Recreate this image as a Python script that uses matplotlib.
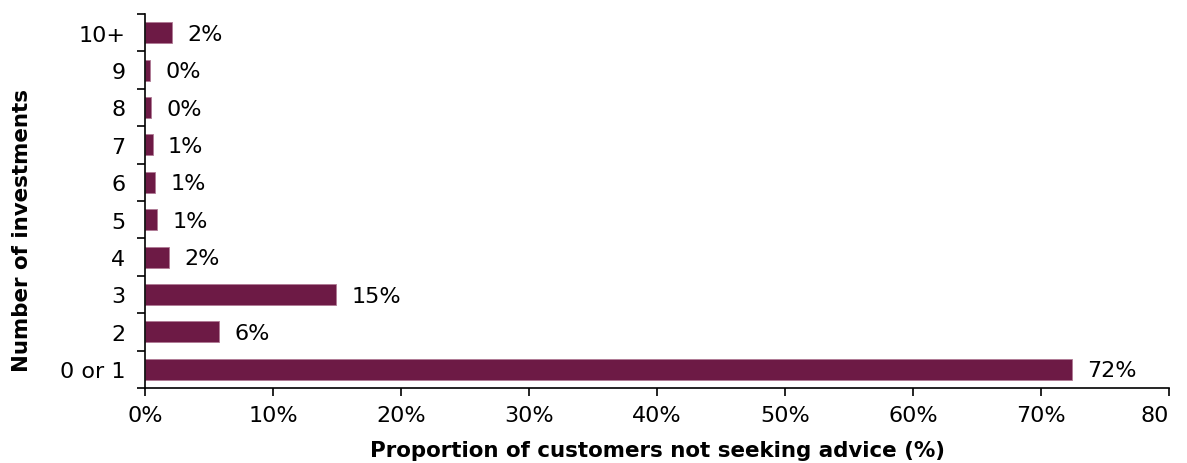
import matplotlib
matplotlib.use("Agg")
import matplotlib.pyplot as plt
import numpy as np

categories = ["0 or 1", "2", "3", "4", "5", "6", "7", "8", "9", "10+"]
values = [72.4, 5.8, 14.9, 1.9, 0.95, 0.8, 0.6, 0.45, 0.4, 2.1]
labels = ["72%", "6%", "15%", "2%", "1%", "1%", "1%", "0%", "0%", "2%"]
xticks = [0, 10, 20, 30, 40, 50, 60, 70, 80]
xticklabels = ["0%", "10%", "20%", "30%", "40%", "50%", "60%", "70%", "80"]

plt.rcParams['font.family'] = ['DejaVu Sans']
fig = plt.figure(figsize=(11.87, 4.64), dpi=100)
ax = fig.add_axes([145/1187, 75/464, 1024/1187, 374/464])

y = np.arange(len(categories))
color = "#6d1a45"
ax.barh(y, values, height=0.56, color=color, edgecolor="#b07a95", linewidth=0.6)
for yi, v, lab in zip(y, values, labels):
    ax.text(v + 1.2, yi - 0.03, lab, va="center", ha="left", fontsize=16, color="black")

ax.set_xlim(0, 80)
ax.set_ylim(-0.5, len(categories) - 0.5)
ax.set_xticks(xticks)
ax.set_xticklabels(xticklabels, fontsize=16)
tl = ax.get_xticklabels()
tl[-1].set_ha("right")
ax.set_yticks(y)
ax.set_yticklabels(categories, fontsize=16)
ax.set_yticks(np.arange(-0.5, len(categories), 1.0), minor=True)
ax.tick_params(axis="y", which="major", length=0, pad=14)
ax.tick_params(axis="y", which="minor", length=6, width=1.2, direction="out")
ax.tick_params(axis="x", which="major", length=6, width=1.2, direction="out", pad=6)
for s in ["top", "right"]:
    ax.spines[s].set_visible(False)
ax.spines["left"].set_linewidth(1.2)
ax.spines["bottom"].set_linewidth(1.2)

ax.set_xlabel("Proportion of customers not seeking advice (%)", fontsize=15.4, fontweight="bold", labelpad=11)
ax.set_ylabel("Number of investments", fontsize=15.4, fontweight="bold", labelpad=12)
ax.yaxis.set_label_coords(-0.11, 0.4225)

fig.savefig("out.png", dpi=100)
